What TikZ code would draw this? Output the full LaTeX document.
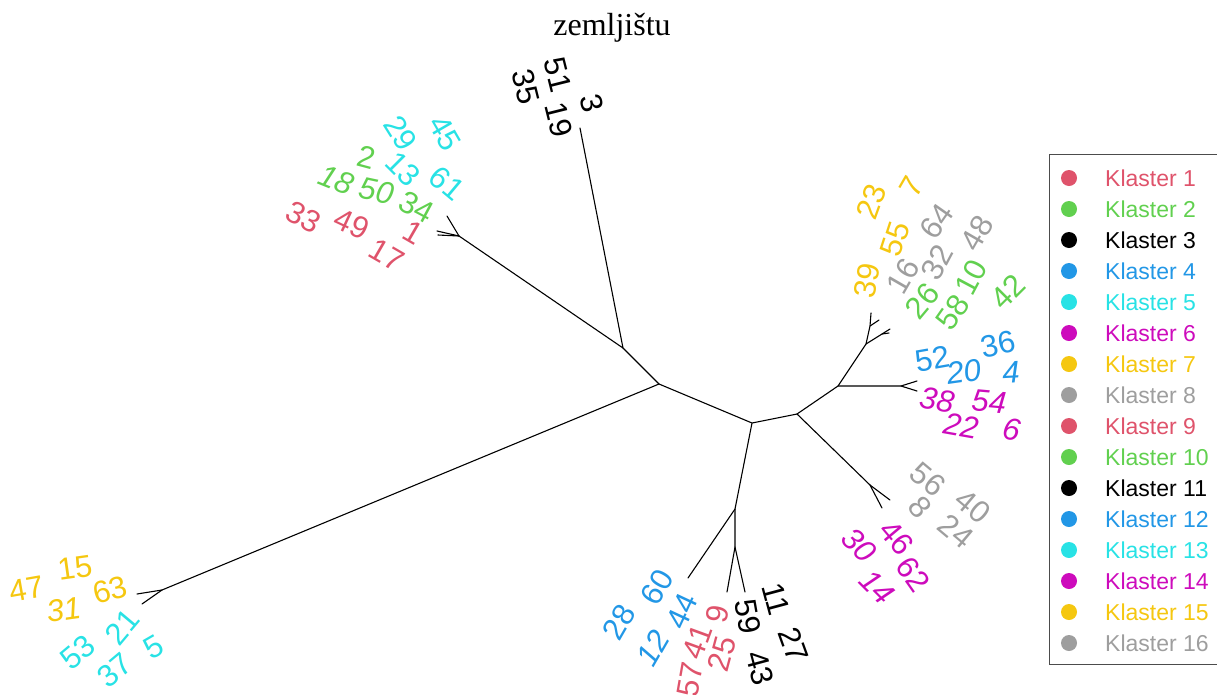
\documentclass[tikz,border=0pt]{standalone}
\usepackage{fontspec}
\setmainfont{Liberation Sans}
\newfontfamily\titlefont{Liberation Serif}
\definecolor{kred}{HTML}{DF536B}
\definecolor{kgreen}{HTML}{61D04F}
\definecolor{kblue}{HTML}{2297E6}
\definecolor{kcyan}{HTML}{28E2E5}
\definecolor{kmag}{HTML}{CD0BBC}
\definecolor{kyel}{HTML}{F5C710}
\definecolor{kgray}{HTML}{9E9E9E}
\definecolor{kblack}{HTML}{000000}
\tikzset{
  branch/.style={draw=black, line width=1.1pt, line cap=round},
  lab/.style={inner sep=0pt, anchor=center, font=\fontsize{31}{31}\selectfont},
  ilab/.style={lab, font=\fontsize{31}{31}\selectfont\itshape},
  legtext/.style={inner sep=0pt, anchor=west, font=\fontsize{23}{23}\selectfont},
  legdot/.style={circle, inner sep=0pt, minimum size=16pt},
  legbox/.style={draw=black!70, line width=1pt}
}
\newcommand\lab[5][lab]{\node[#1, text=#2, rotate=#5] (n#3) at (#4) {#3};}
\begin{document}
\begin{tikzpicture}[x=1pt, y=-1pt]
\useasboundingbox (0,0) rectangle (1217,694);
% title
\node[inner sep=0pt, font=\fontsize{32}{32}\selectfont\titlefont] (title) at (612,28) {zemljištu};
% tree coordinates
\coordinate (R) at (659,384);
\coordinate (A) at (623,348);
\coordinate (B) at (752,423);
\coordinate (C) at (797,414);
\coordinate (T3) at (580,128);
\coordinate (TLf) at (459,236);
\coordinate (TLa) at (447,216);
\coordinate (TLb) at (437,231);
\coordinate (TLc) at (438,235);
\coordinate (BLf) at (162,590);
\coordinate (BLa) at (137,594);
\coordinate (BLb) at (142,604);
\coordinate (D) at (735,509);
\coordinate (Dt) at (688,578);
\coordinate (E) at (735,547);
\coordinate (Ea) at (727,592);
\coordinate (Eb) at (745,592);
\coordinate (F) at (838,386);
\coordinate (Gm) at (901,386);
\coordinate (Gma) at (917,381);
\coordinate (Gmb) at (917,391);
\coordinate (G) at (866,344);
\coordinate (H1) at (870,326);
\coordinate (H1a) at (871,313);
\coordinate (H1b) at (879,320);
\coordinate (H2) at (882,334);
\coordinate (H2a) at (890,329);
\coordinate (H2b) at (889,333);
\coordinate (K) at (870,485);
\coordinate (Ka) at (890,500);
\coordinate (Kb) at (882,508);
% branches
\draw[branch] (R) -- (A) -- (T3);
\draw[branch] (A) -- (TLf) -- (TLa);
\draw[branch] (TLf) -- (TLb);
\draw[branch] (TLf) -- (TLc);
\draw[branch] (R) -- (BLf) -- (BLa);
\draw[branch] (BLf) -- (BLb);
\draw[branch] (R) -- (B) -- (C);
\draw[branch] (B) -- (D) -- (Dt);
\draw[branch] (D) -- (E) -- (Ea);
\draw[branch] (E) -- (Eb);
\draw[branch] (C) -- (F) -- (Gm) -- (Gma);
\draw[branch] (Gm) -- (Gmb);
\draw[branch] (F) -- (G) -- (H1) -- (H1a);
\draw[branch] (H1) -- (H1b);
\draw[branch] (G) -- (H2) -- (H2a);
\draw[branch] (H2) -- (H2b);
\draw[branch] (C) -- (K) -- (Ka);
\draw[branch] (K) -- (Kb);
% top black cluster
\lab{kblack}{51}{558,75}{-76}
\lab{kblack}{35}{526,87}{-76}
\lab{kblack}{19}{559,120}{-76}
\lab{kblack}{3}{592,103}{-76}
% top-left cluster
\lab{kcyan}{45}{445,133}{-60}
\lab{kcyan}{29}{401,133}{-58}
\lab{kgreen}{2}{367,157}{-15}
\lab{kcyan}{13}{403,169}{-45}
\lab{kcyan}{61}{447,183}{-40}
\lab[ilab]{kgreen}{18}{336,180}{-22}
\lab[ilab]{kgreen}{50}{377,191}{-12}
\lab{kgreen}{34}{417,207}{-28}
\lab{kred}{33}{304,217}{-28}
\lab{kred}{49}{352,224}{-25}
\lab{kred}{1}{413,233}{-30}
\lab{kred}{17}{387,255}{-30}
% right upper cluster
\lab{kyel}{23}{871,202}{70}
\lab{kyel}{7}{912,187}{60}
\lab{kyel}{55}{895,239}{72}
\lab{kyel}{39}{867,281}{80}
\lab{kgray}{64}{937,221}{55}
\lab{kgray}{48}{977,233}{60}
\lab{kgray}{16}{903,276}{60}
\lab{kgray}{32}{937,262}{62}
\lab{kgreen}{26}{922,301}{50}
\lab{kgreen}{58}{953,312}{55}
\lab{kgreen}{10}{971,277}{62}
\lab{kgreen}{42}{1008,292}{45}
% right middle cluster
\lab{kblue}{52}{933,359}{10}
\lab{kblue}{36}{998,344}{12}
\lab[ilab]{kblue}{20}{964,372}{8}
\lab[ilab]{kblue}{4}{1011,372}{3}
\lab[ilab]{kmag}{38}{937,400}{-10}
\lab[ilab]{kmag}{54}{989,402}{-5}
\lab[ilab]{kmag}{22}{961,426}{-10}
\lab[ilab]{kmag}{6}{1012,429}{-10}
% right lower cluster
\lab{kgray}{56}{928,479}{-40}
\lab{kgray}{40}{973,506}{-40}
\lab{kgray}{8}{920,507}{-50}
\lab{kgray}{24}{956,531}{-40}
\lab{kmag}{46}{897,538}{-50}
\lab{kmag}{62}{913,574}{-55}
\lab[ilab]{kmag}{30}{859,545}{-45}
\lab[ilab]{kmag}{14}{877,587}{-45}
% bottom cluster
\lab{kblue}{28}{619,622}{60}
\lab{kblue}{60}{657,587}{60}
\lab[ilab]{kblue}{12}{653,648}{60}
\lab{kblue}{44}{682,611}{65}
\lab{kred}{9}{717,614}{80}
\lab{kred}{41}{697,642}{70}
\lab{kred}{57}{690,680}{80}
\lab{kred}{25}{722,654}{75}
\lab{kblack}{59}{748,617}{-80}
\lab{kblack}{11}{776,599}{-75}
\lab{kblack}{27}{794,645}{-70}
\lab{kblack}{43}{760,668}{-75}
% bottom left cluster
\lab{kyel}{47}{27,589}{10}
\lab{kyel}{15}{75,568}{8}
\lab[ilab]{kyel}{31}{64,610}{8}
\lab{kyel}{63}{110,590}{15}
\lab{kcyan}{53}{78,652}{40}
\lab{kcyan}{21}{122,627}{50}
\lab{kcyan}{37}{115,670}{40}
\lab{kcyan}{5}{154,647}{30}
% legend
\coordinate (LBtr) at (1225,154);
\coordinate (LBtl) at (1049,154);
\coordinate (LBbl) at (1049,664);
\coordinate (LBbr) at (1225,664);
\draw[legbox] (LBtr) -- (LBtl) -- (LBbl) -- (LBbr);
\foreach \i/\c in {1/kred,2/kgreen,3/kblack,4/kblue,5/kcyan,6/kmag,7/kyel,8/kgray,9/kred,10/kgreen,11/kblack,12/kblue,13/kcyan,14/kmag,15/kyel,16/kgray}{
  \node[legdot, fill=\c] (ld\i) at (1069,{178+31*(\i-1)}) {};
  \node[legtext, text=\c] (lt\i) at (1105,{178+31*(\i-1)}) {Klaster \i};
}
\end{tikzpicture}
\end{document}
